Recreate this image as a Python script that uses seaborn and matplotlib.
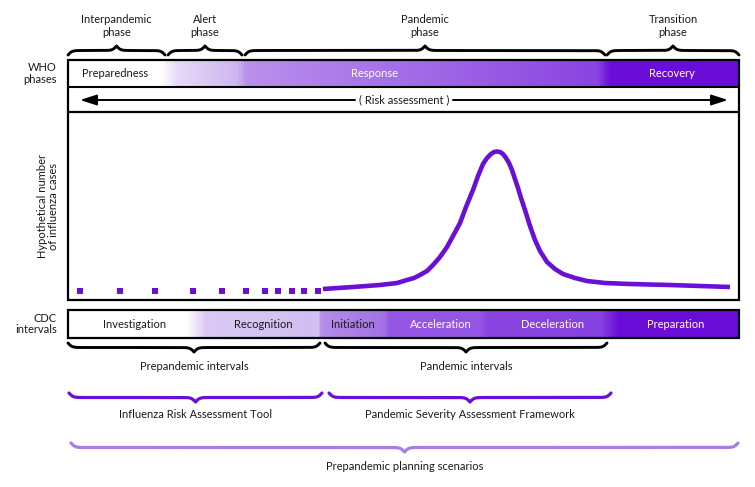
import numpy as np
import pandas as pd
import matplotlib
matplotlib.use('Agg')
import matplotlib.pyplot as plt
from matplotlib.colors import LinearSegmentedColormap
from matplotlib.patches import Rectangle
import seaborn as sns

# ─────────────────────────────────────────
# DATA  (timeline units run 68 → 739 across the diagram)
# ─────────────────────────────────────────
who_phase_labels = ['Interpandemic\nphase', 'Alert\nphase', 'Pandemic\nphase', 'Transition\nphase']
who_phase_start = [68, 168, 245, 607]
who_phase_end = [165, 242, 605, 739]

who_bar_labels = ['Preparedness', 'Response', 'Recovery']
who_bar_center = [82, 375, 672]

cdc_labels = ['Investigation', 'Recognition', 'Initiation', 'Acceleration', 'Deceleration', 'Preparation']
cdc_center = [135, 263, 353, 441, 553, 676]

cdc_group_labels = ['Prepandemic intervals', 'Pandemic intervals']
cdc_group_start = [68, 325]
cdc_group_end = [320, 607]

tool_labels = ['Influenza Risk Assessment Tool', 'Pandemic Severity Assessment Framework']
tool_start = [69, 329]
tool_end = [322, 611]

scenario_label = 'Prepandemic planning scenarios'
scenario_start, scenario_end = 71, 738

# hypothetical case counts (pre-pandemic sporadic detections, then the wave)
dot_t = [80, 120, 155, 193, 222, 246, 265, 278, 292, 304, 318]
dot_cases = [9, 9, 9, 9, 9, 9, 9, 9, 9, 9, 9]
curve_t = [323, 353, 380, 397, 407, 414, 420, 427, 433, 440, 447, 453, 460, 466,
           473, 478, 483, 487, 491, 494, 497, 500, 503, 506, 509, 512, 515, 518,
           521, 525, 530, 535, 540, 547, 555, 563, 575, 587, 605, 630, 670, 700, 730]
curve_cases = [11, 13, 15, 17, 20, 22, 25, 29, 35, 43, 53, 64, 77, 93,
               110, 124, 136, 142, 146, 148, 148.5, 148, 146, 142, 137, 130, 121, 112,
               102, 90, 74, 60, 49, 38, 31, 26, 22, 19, 17, 16, 15, 14, 13]

# ─────────────────────────────────────────
# STYLE
# ─────────────────────────────────────────
sns.set_style('white')
plt.rcParams['font.family'] = ['Lato', 'DejaVu Sans']
FS = 8
PURPLE = '#6a0fd6'
LIGHT = '#a77de6'
TXT = '#1a1a1a'

W, H = 755, 487
X0, X1 = 68, 739

fig = plt.figure(figsize=(W / 100, H / 100), dpi=100)
ax = fig.add_axes([0, 0, 1, 1])


def gradient_bar(ax, y0, y1, stops):
    pos = [(s[0] - X0) / (X1 - X0) for s in stops]
    cmap = LinearSegmentedColormap.from_list('g', list(zip(pos, [s[1] for s in stops])))
    grad = np.linspace(0, 1, 1000)[None, :]
    ax.imshow(grad, cmap=cmap, extent=(X0, X1, y1, y0), aspect='auto',
              interpolation='bilinear', zorder=1)


def brace(ax, x0, x1, y_end, h, color='black', lw=2.1):
    # h > 0 : tip points up ; h < 0 : tip points down
    n = 801
    x = np.linspace(x0, x1, n)
    half = x[:n // 2 + 1]
    beta = 0.5
    yh = 1 / (1 + np.exp(-beta * (half - half[0]))) + 1 / (1 + np.exp(-beta * (half - half[-1])))
    shape = np.concatenate((yh, yh[-2::-1]))
    y = y_end - (shape - 0.5) * h
    ax.plot(x, y, color=color, lw=lw, solid_capstyle='round', zorder=3)


# ── WHO phases (top braces + bar)
for lab, a, b in zip(who_phase_labels, who_phase_start, who_phase_end):
    brace(ax, a, b, 55, 9)
    ax.text((a + b) / 2, 26, lab, ha='center', va='center', fontsize=FS,
            color=TXT, linespacing=1.15)

gradient_bar(ax, 60, 87, [(X0, '#ffffff'), (160, '#ffffff'), (176, '#e6daf7'),
                          (236, '#cfb6f1'), (246, '#b990ec'), (598, '#8a44e1'),
                          (612, '#6a0dd8'), (X1, '#6a0dd8')])
ax.text(who_bar_center[0], 73.5, who_bar_labels[0], ha='left', va='center', fontsize=FS, color=TXT)
for lab, c in zip(who_bar_labels[1:], who_bar_center[1:]):
    ax.text(c, 73.5, lab, ha='center', va='center', fontsize=FS, color='white')
ax.text(57, 73.5, 'WHO\nphases', ha='right', va='center', fontsize=FS, color=TXT, linespacing=1.1)

# ── Risk assessment arrow
ax.text(404, 100, '( Risk assessment )', ha='center', va='center', fontsize=FS, color=TXT)
arrow = dict(arrowstyle='-|>,head_length=1.0,head_width=0.32', color='black', lw=1.4,
             shrinkA=0, shrinkB=0)
ax.annotate('', xy=(80, 100), xytext=(355, 100), arrowprops=arrow)
ax.annotate('', xy=(728, 100), xytext=(453, 100), arrowprops=arrow)

# frames
ax.add_patch(Rectangle((X0, 60), X1 - X0, 240, fill=False, ec='black', lw=1.6, zorder=4))
ax.plot([X0, X1], [87, 87], color='black', lw=1.5, zorder=4)
ax.plot([X0, X1], [112, 112], color='black', lw=1.6, zorder=4)

# ── CDC intervals bar
gradient_bar(ax, 310, 338, [(X0, '#ffffff'), (186, '#ffffff'), (205, '#d9c9f4'),
                            (318, '#d2bef2'), (321, '#b48de9'), (383, '#a273e6'),
                            (390, '#9556e4'), (481, '#9454e4'), (487, '#8a44e0'),
                            (602, '#8642e0'), (620, '#6a0dd8'), (X1, '#6a0dd8')])
ax.add_patch(Rectangle((X0, 310), X1 - X0, 28, fill=False, ec='black', lw=1.6, zorder=4))
for i, (lab, c) in enumerate(zip(cdc_labels, cdc_center)):
    ax.text(c, 324, lab, ha='center', va='center', fontsize=FS,
            color=TXT if i < 3 else 'white')
ax.text(57, 324, 'CDC\nintervals', ha='right', va='center', fontsize=FS, color=TXT, linespacing=1.1)

for lab, a, b in zip(cdc_group_labels, cdc_group_start, cdc_group_end):
    brace(ax, a, b, 343, -9)
    ax.text((a + b) / 2, 366, lab, ha='center', va='center', fontsize=FS, color=TXT)

# ── assessment tools
for lab, a, b in zip(tool_labels, tool_start, tool_end):
    brace(ax, a, b, 393, -9, color=PURPLE, lw=2.3)
    ax.text((a + b) / 2, 415, lab, ha='center', va='center', fontsize=FS, color=TXT)

brace(ax, scenario_start, scenario_end, 443, -9, color=LIGHT, lw=2.3)
ax.text((scenario_start + scenario_end) / 2, 466, scenario_label, ha='center',
        va='center', fontsize=FS, color=TXT)

ax.set_xlim(0, W)
ax.set_ylim(H, 0)
ax.axis('off')

# ── epidemic curve inside the plot box
cax = fig.add_axes([X0 / W, 1 - 300 / H, (X1 - X0) / W, 188 / H])
cax.patch.set_alpha(0)
sns.scatterplot(x=dot_t, y=dot_cases, ax=cax, marker='s', s=15, color=PURPLE,
                edgecolor='none', linewidth=0)
sns.lineplot(x=curve_t, y=curve_cases, ax=cax, color=PURPLE, lw=3.3,
             sort=False, estimator=None, solid_joinstyle='round', solid_capstyle='butt')
cax.set_xlim(X0, X1)
cax.set_ylim(0, 188)
cax.axis('off')

ax.text(48, 206, 'Hypothetical number\nof influenza cases', ha='center', va='center',
        rotation=90, fontsize=FS, color=TXT, linespacing=1.1)

fig.savefig('out.png', dpi=100)
